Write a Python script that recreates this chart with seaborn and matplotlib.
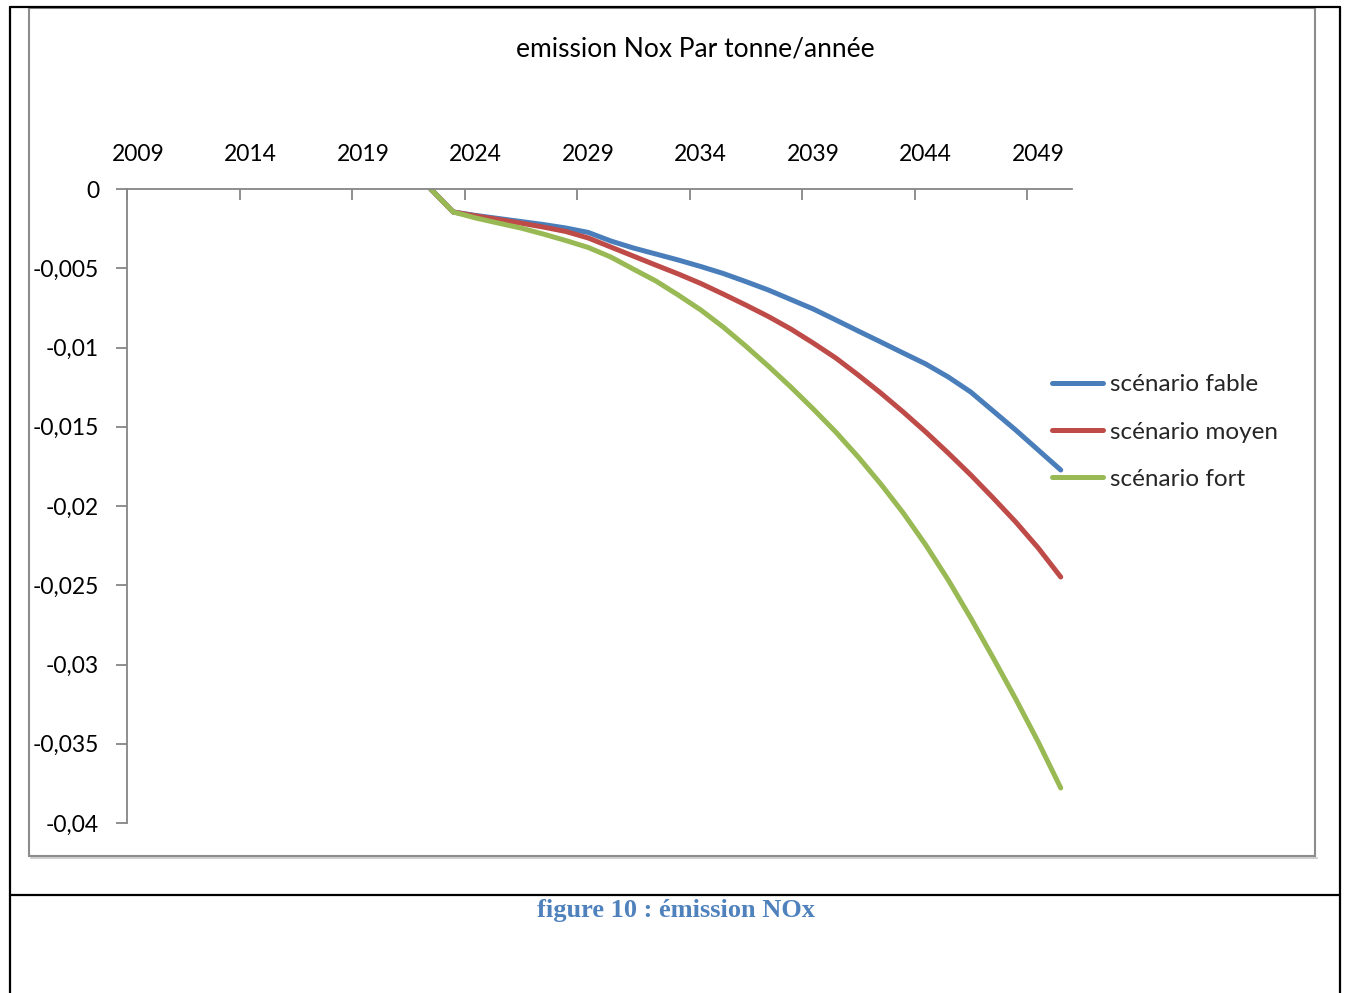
import matplotlib
matplotlib.use("Agg")
import matplotlib.pyplot as plt
from matplotlib.lines import Line2D
from matplotlib.patches import Rectangle
import seaborn as sns
import pandas as pd
import numpy as np

# Category axis: one slot per year
years = list(range(2009, 2051))
first_year = 2022

# Emission change (t/year) per scenario, from 2022 onward
fable = [0.0, -0.00145, -0.00167, -0.00186, -0.00205, -0.00224, -0.00246, -0.00274,
         -0.00328, -0.00372, -0.00410, -0.00448, -0.00489, -0.00533, -0.00584, -0.00637,
         -0.00697, -0.00757, -0.00826, -0.00896, -0.00965, -0.01035, -0.01104, -0.01186,
         -0.01281, -0.01401, -0.01521, -0.01647, -0.01773]
moyen = [0.0, -0.00145, -0.00170, -0.00192, -0.00215, -0.00240, -0.00268, -0.00309,
         -0.00366, -0.00423, -0.00480, -0.00536, -0.00596, -0.00663, -0.00732, -0.00804,
         -0.00883, -0.00972, -0.01066, -0.01174, -0.01287, -0.01407, -0.01533, -0.01666,
         -0.01804, -0.01950, -0.02101, -0.02265, -0.02448]
fort = [0.0, -0.00145, -0.00183, -0.00215, -0.00246, -0.00284, -0.00325, -0.00369,
        -0.00429, -0.00505, -0.00580, -0.00669, -0.00763, -0.00871, -0.00991, -0.01117,
        -0.01249, -0.01388, -0.01533, -0.01691, -0.01861, -0.02044, -0.02246, -0.02467,
        -0.02707, -0.02959, -0.03218, -0.03489, -0.03779]

series_names = ["scénario fable", "scénario moyen", "scénario fort"]
series_colors = ["#4A7EBB", "#BE4B48", "#98B954"]

y_ticks = [0, -0.005, -0.01, -0.015, -0.02, -0.025, -0.03, -0.035, -0.04]
y_tick_labels = ["0", "-0,005", "-0,01", "-0,015", "-0,02", "-0,025", "-0,03", "-0,035", "-0,04"]
x_label_years = [2009, 2014, 2019, 2024, 2029, 2034, 2039, 2044, 2049]

title = "emission Nox Par tonne/année"
caption = "figure 10 : émission NOx"

rows = []
for name, vals in zip(series_names, [fable, moyen, fort]):
    for k, v in enumerate(vals):
        yr = first_year + k
        rows.append({"idx": years.index(yr), "val": v, "scenario": name})
df = pd.DataFrame(rows)

sns.set_style("white")
plt.rcParams["font.family"] = ["Lato", "DejaVu Sans"]

W, H = 1348, 993
fig = plt.figure(figsize=(W / 100, H / 100), dpi=100)
fig.patch.set_facecolor("white")

def fx(px):
    return px / W

def fy(py):
    return 1 - py / H

ax = fig.add_axes([fx(127), fy(823), fx(1072) - fx(127), fy(189) - fy(823)])
ax.set_facecolor("none")

line_w = 3.6
sns.lineplot(data=df, x="idx", y="val", hue="scenario", hue_order=series_names,
             palette=dict(zip(series_names, series_colors)), linewidth=line_w,
             ax=ax, legend=False, solid_capstyle="round", solid_joinstyle="round")

ax.set_xlim(-0.5, len(years) - 0.5)
ax.set_ylim(-0.04, 0)
ax.set_xlabel("")
ax.set_ylabel("")

axis_gray = "#868686"
for side in ["bottom", "right"]:
    ax.spines[side].set_visible(False)
for side in ["top", "left"]:
    ax.spines[side].set_color(axis_gray)
    ax.spines[side].set_linewidth(1.3)

# x axis on top: tick marks at category boundaries, labels at category centres
ax.xaxis.set_ticks_position("top")
ax.set_xticks(np.arange(-0.5, len(years) - 0.5, 5))
ax.set_xticklabels([])
ax.set_xticks([years.index(y) for y in x_label_years], minor=True)
ax.set_xticklabels([str(y) for y in x_label_years], minor=True)
ax.tick_params(axis="x", which="major", direction="in", length=8, width=1.3,
               color=axis_gray, top=True, bottom=False)
ax.tick_params(axis="x", which="minor", length=0, pad=17, labelsize=16.5,
               labelcolor="black", top=True, bottom=False, labeltop=True, labelbottom=False)

ax.set_yticks(y_ticks)
ax.set_yticklabels(y_tick_labels)
ax.tick_params(axis="y", direction="out", length=8, width=1.3, color=axis_gray,
               left=True, pad=12, labelsize=16.5, labelcolor="black")
ax.grid(False)

# Legend
handles = [Line2D([0], [0], color=c, lw=line_w, solid_capstyle="round") for c in series_colors]
fig.legend(handles, series_names, loc="center left",
           bbox_to_anchor=(fx(1052), fy(432)), bbox_transform=fig.transFigure,
           frameon=False, fontsize=17.5, handlelength=2.1, handletextpad=0.28,
           labelspacing=1.08, borderpad=0, borderaxespad=0)

# Title
fig.text(fx(695), fy(49), title, ha="center", va="center", fontsize=19, color="black")

# Chart frame
fig.add_artist(Rectangle((fx(29), fy(856)), fx(1315) - fx(29), fy(8) - fy(856),
                         transform=fig.transFigure, fill=False, edgecolor="#8C8C8C",
                         linewidth=1.5, zorder=5))
fig.add_artist(Line2D([fx(31), fx(1317)], [fy(858), fy(858)], transform=fig.transFigure,
                      color="#D0D0D0", linewidth=1.5, zorder=4))

# Page table borders
border_kw = dict(transform=fig.transFigure, color="black", linewidth=1.6, zorder=6)
fig.add_artist(Line2D([fx(10), fx(10)], [fy(7), 0], **border_kw))
fig.add_artist(Line2D([fx(1340), fx(1340)], [fy(7), 0], **border_kw))
fig.add_artist(Line2D([fx(10), fx(1340)], [fy(7), fy(7)], **border_kw))
fig.add_artist(Line2D([fx(10), fx(1340)], [fy(895), fy(895)], **border_kw))

# Caption
fig.text(fx(676), fy(911), caption, ha="center", va="center", fontsize=19,
         fontweight="bold", color="#4F81BD",
         family=["Liberation Serif", "DejaVu Serif"])

fig.savefig("out.png", dpi=100, facecolor="white")
